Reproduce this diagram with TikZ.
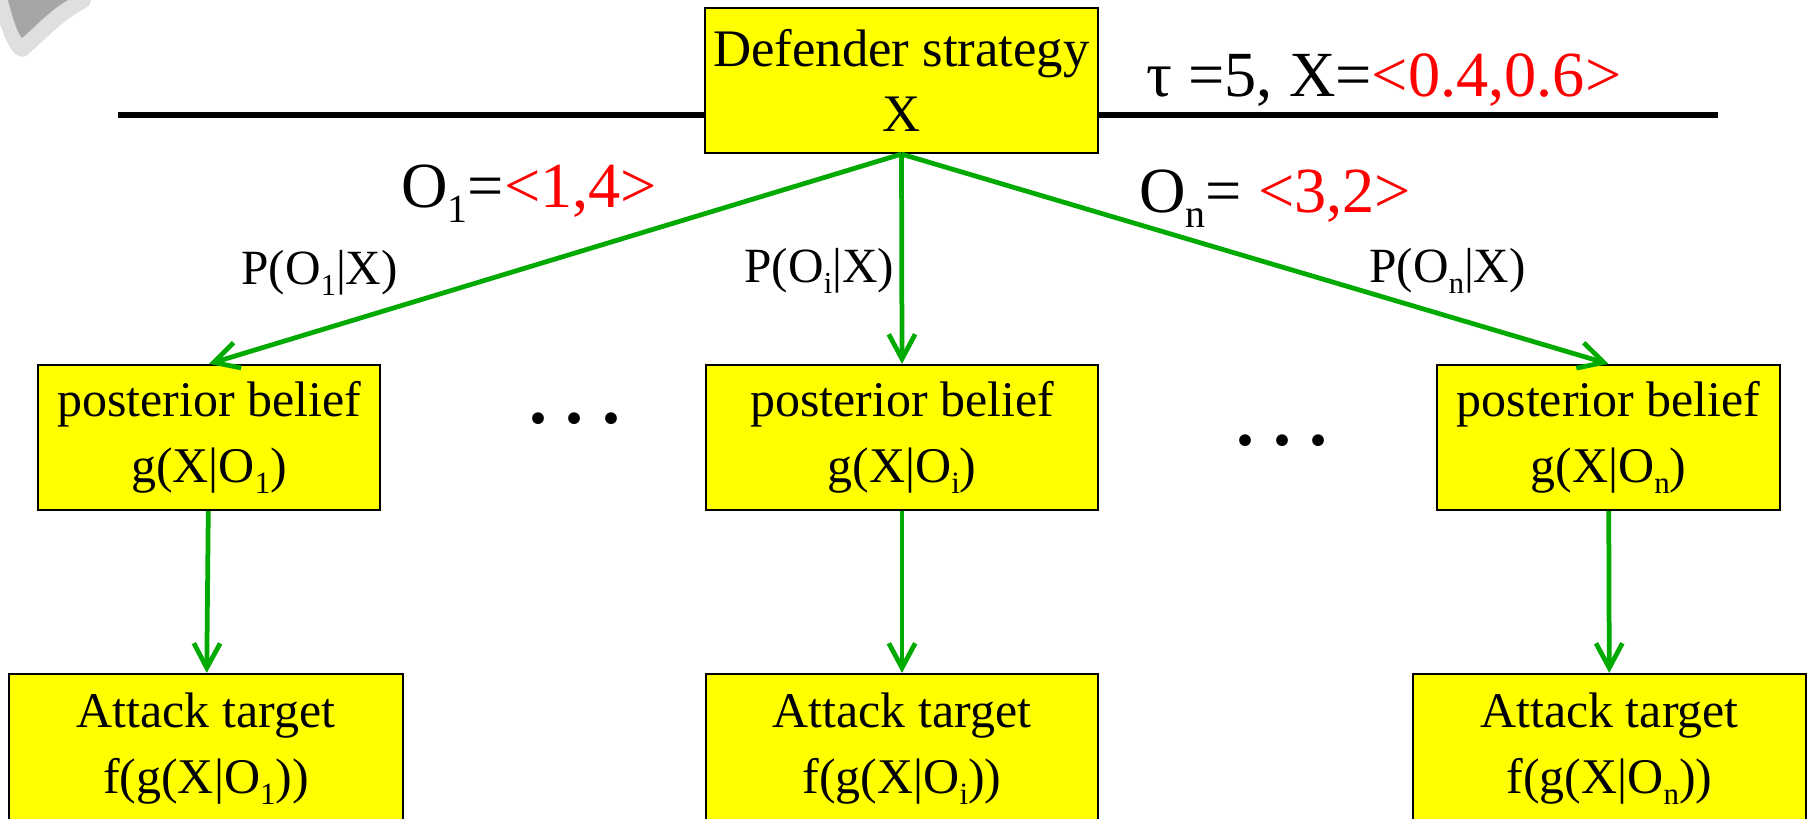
\documentclass[tikz,border=0pt]{standalone}
\usepackage{fontspec}
\usepackage{graphicx}
\setmainfont{Liberation Serif}
\usetikzlibrary{arrows.meta}
\definecolor{boxyellow}{RGB}{255,255,0}
\definecolor{arrowgreen}{RGB}{0,170,0}
\definecolor{obsred}{RGB}{255,0,0}
\newcommand{\lo}[1]{\raisebox{-0.22em}{\scalebox{0.62}{#1}}}

\begin{document}
\begin{tikzpicture}[x=0.01cm, y=-0.01cm,
  box/.style={draw=black, line width=0.6pt, fill=boxyellow, align=center, inner sep=0pt,
    minimum height=1.45cm, font=\fontsize{14.2}{18.7}\selectfont},
  arr/.style={-{Straight Barb[length=7pt,width=7.5pt]}, arrowgreen, line width=1.35pt},
  big/.style={anchor=base west, font=\fontsize{18.3}{21}\selectfont},
  prob/.style={anchor=base west, font=\fontsize{14}{16}\selectfont},
  dots/.style={anchor=base, font=\bfseries\fontsize{20.5}{24}\selectfont}]
\useasboundingbox (0,0) rectangle (1810,819);
% grey smudge in the corner
\draw[gray!25, line width=5pt, line join=round, fill=gray!45] (2,0) .. controls (10,28) and (16,44) .. (22,48) .. controls (36,36) and (58,12) .. (82,0) -- cycle;
\fill[gray!70] (8,0) .. controls (13,20) and (18,34) .. (22,38) .. controls (34,28) and (50,10) .. (68,0) -- cycle;

% top
\node (def) at (901.5,80.5) [box, minimum width=3.93cm, font=\fontsize{15}{18.5}\selectfont] {Defender strategy\\X};
\coordinate (lineL) at (118,115);
\coordinate (lineR) at (1718,115);
\draw[line width=1.7pt] (lineL) -- (lineL -| def.west);
\draw[line width=1.7pt] (lineR -| def.east) -- (lineR);
\node (tau) at (1134,97) [big] {τ =5, X=\textcolor{obsred}{<0.4,0.6>}};

% posterior beliefs
\node (post1) at (209,437.5) [box, minimum width=3.42cm] {posterior belief\\g(X|O\lo{1})};
\node (posti) at (902,437.5) [box, minimum width=3.92cm] {posterior belief\\g(X|O\lo{i})};
\node (postn) at (1608.5,437.5) [box, minimum width=3.43cm] {posterior belief\\g(X|O\lo{n})};
\node (dotsL) at (575,424) [dots] {.\ .\ .};
\node (dotsR) at (1282,446) [dots] {.\ .\ .};

% attack targets
\node (att1) at (206,749) [box, minimum width=3.94cm, minimum height=1.5cm] {Attack target\\f(g(X|O\lo{1}))};
\node (atti) at (902,749) [box, minimum width=3.92cm, minimum height=1.5cm] {Attack target\\f(g(X|O\lo{i}))};
\node (attn) at (1609.5,749) [box, minimum width=3.93cm, minimum height=1.5cm] {Attack target\\f(g(X|O\lo{n}))};

% observations
\draw[arr] (def.south) -- (post1.north);
\draw[arr] (def.south) -- (posti.north);
\draw[arr] (def.south) -- (postn.north);
\draw[arr] (post1) -- (att1);
\draw[arr] (posti) -- (atti);
\draw[arr] (postn) -- (attn);
\node (obs1) at (389,208) [big] {O\lo{1}=\textcolor{obsred}{<1,4>}};
\node (obsn) at (1127,213) [big] {O\lo{n}= \textcolor{obsred}{<3,2>}};
\node (prob1) at (229,285) [prob] {P(O\lo{1}|X)};
\node (probi) at (732,283) [prob] {P(O\lo{i}|X)};
\node (probn) at (1357,283) [prob] {P(O\lo{n}|X)};
\end{tikzpicture}
\end{document}
